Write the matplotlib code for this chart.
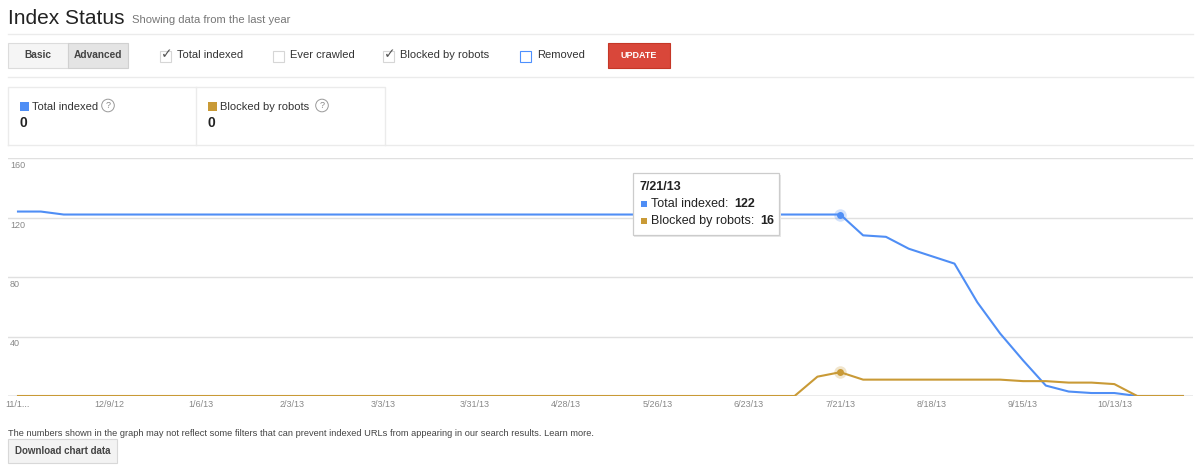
import matplotlib
matplotlib.use("Agg")
import matplotlib.pyplot as plt
import matplotlib.transforms as mtransforms
from matplotlib.patches import Rectangle
import pandas as pd

plt.rcParams["font.family"] = ["Liberation Sans", "DejaVu Sans"]

# ---- data (weekly) ----
week_start = "2012-11-11"
total_indexed = [124, 124] + [122] * 35 + [108, 107, 99, 94, 89, 63, 42, 24, 7, 3, 2, 2, 0, 0, 0]
blocked_by_robots = [0] * 35 + [13, 16, 11, 11, 11, 11, 11, 11, 11, 10, 10, 9, 9, 8, 0, 0, 0]
tick_labels = ["11/1...", "12/9/12", "1/6/13", "2/3/13", "3/3/13", "3/31/13", "4/28/13",
               "5/26/13", "6/23/13", "7/21/13", "8/18/13", "9/15/13", "10/13/13"]
y_labels = [40, 80, 120, 160]
hover_idx = 36

dates = pd.date_range(week_start, periods=len(total_indexed), freq="7D")

BLUE = "#4f8ef5"
OCHRE = "#c99a36"
GRID = "#e0e0e0"
SEP = "#ebebeb"
TXT = "#333333"

fig = plt.figure(figsize=(12, 4.71), dpi=100)
fig.patch.set_facecolor("white")

# UI layer in pixel coordinates
ui = fig.add_axes([0, 0, 1, 1], zorder=0)
ui.set_xlim(0, 1200)
ui.set_ylim(471, 0)
ui.axis("off")

ui.text(8, 19, "Index Status", fontsize=15, color="#222", va="center")
ui.text(132, 20, "Showing data from the last year", fontsize=8.1, color="#777", va="center")
for y in (34, 77, 145):
    ui.plot([8, 1193], [y, y], color=SEP, lw=1)

# Basic / Advanced toggle
ui.add_patch(Rectangle((8, 43), 60, 25, fc="#f5f5f5", ec="#dcdcdc", lw=0.8))
ui.add_patch(Rectangle((68, 43), 60, 25, fc="#e4e4e4", ec="#d0d0d0", lw=0.8))
ui.text(38, 55.5, "Basic", fontsize=7.3, fontweight="bold", color="#444", ha="center", va="center")
ui.text(98, 55.5, "Advanced", fontsize=7.3, fontweight="bold", color="#444", ha="center", va="center")

checks = [(160, "Total indexed", True, "#d6d6d6"),
          (273, "Ever crawled", False, "#d6d6d6"),
          (383, "Blocked by robots", True, "#d6d6d6"),
          (520, "Removed", False, "#4d90fe")]
for x, label, on, ec in checks:
    ui.add_patch(Rectangle((x, 50.5), 11, 11, fc="white", ec=ec, lw=0.8))
    if on:
        ui.text(x + 6.5, 54.5, "\u2713", fontsize=10, color="#555", ha="center", va="center")
    ui.text(x + 17, 55.5, label, fontsize=8, color=TXT, va="center")

ui.add_patch(Rectangle((608, 43), 62, 25, fc="#d9473a", ec="#c53727", lw=0.8))
ui.text(639, 55.5, "UPDATE", fontsize=6.5, fontweight="bold", color="white", ha="center", va="center")

# summary boxes
ui.plot([8, 8, 385, 385], [145, 87, 87, 145], color=SEP, lw=1)
ui.plot([196, 196], [87, 145], color=SEP, lw=1)
for x0, name, col, val, qx in [(20, "Total indexed", BLUE, total_indexed[-1], 108),
                               (208, "Blocked by robots", OCHRE, blocked_by_robots[-1], 322)]:
    ui.add_patch(Rectangle((x0, 101.5), 9, 9, fc=col, ec="none"))
    ui.text(x0 + 12, 106.5, name, fontsize=8, color=TXT, va="center")
    ui.text(qx, 105.5, "?", fontsize=6.5, color="#888", ha="center", va="center",
            bbox=dict(boxstyle="circle,pad=0.2", fc="none", ec="#999", lw=0.7))
    ui.text(x0, 123, str(val), fontsize=10, fontweight="bold", color="#222", va="center")

# footer
ui.text(8, 433, "The numbers shown in the graph may not reflect some filters that can prevent "
        "indexed URLs from appearing in our search results. Learn more.",
        fontsize=6.7, color="#444", va="center")
ui.add_patch(Rectangle((8, 439), 109, 24, fc="#f3f3f3", ec="#d8d8d8", lw=0.8))
ui.text(62.5, 451, "Download chart data", fontsize=7, fontweight="bold", color="#444",
        ha="center", va="center")

# ---- chart ----
ax = fig.add_axes([8 / 1200, 1 - 396 / 471, 1185 / 1200, (396 - 158) / 471], zorder=1)
ax.patch.set_alpha(0)
for s in ax.spines.values():
    s.set_visible(False)
ax.set_ylim(0, 160)
ax.set_xlim(dates[0] - pd.Timedelta(days=3.06), dates[0] + pd.Timedelta(days=360.1))

for v in y_labels:
    ax.axhline(v, color=GRID, lw=1, zorder=1)
ax.axhline(0, color="#999", lw=1, zorder=1)

lab_tr = mtransforms.offset_copy(ax.get_yaxis_transform(), fig=fig, x=2, y=-3, units="dots")
for v in y_labels:
    ax.text(0, v, str(v), transform=lab_tr, fontsize=6.5, color="#888", va="top", ha="left")

ax.plot(dates, total_indexed, color=BLUE, lw=1.5, zorder=3)
ax.plot(dates, blocked_by_robots, color=OCHRE, lw=1.5, zorder=4)

for series, col in [(total_indexed, BLUE), (blocked_by_robots, OCHRE)]:
    ax.plot(dates[hover_idx], series[hover_idx], "o", ms=9, color=col, alpha=0.25, mec="none", zorder=5)
    ax.plot(dates[hover_idx], series[hover_idx], "o", ms=5, color=col, mec="none", zorder=6)

ax.set_yticks([])
ax.set_xticks(dates[::4])
ax.set_xticklabels(tick_labels, fontsize=6.5, color="#888")
ax.tick_params(axis="x", length=0, pad=3)

# ---- tooltip ----
top = fig.add_axes([0, 0, 1, 1], zorder=3)
top.set_xlim(0, 1200)
top.set_ylim(471, 0)
top.axis("off")
top.add_patch(Rectangle((634, 175), 147, 62, fc="#e8e8e8", ec="none"))
top.add_patch(Rectangle((633, 173), 146, 62, fc="white", ec="#cccccc", lw=0.9))
top.text(640, 187, dates[hover_idx].strftime("%-m/%-d/%y"), fontsize=9, fontweight="bold",
         color="#222", va="center")
for y, name, col, val in [(204, "Total indexed:", BLUE, total_indexed[hover_idx]),
                          (221, "Blocked by robots:", OCHRE, blocked_by_robots[hover_idx])]:
    top.add_patch(Rectangle((641, y - 3), 6, 6, fc=col, ec="none"))
    t = top.text(651, y, name, fontsize=9, color="#222", va="center")
    top.annotate(str(val), xy=(1, 0.5), xycoords=t, xytext=(4, 0), textcoords="offset points",
                 fontsize=9, fontweight="bold", color="#222", va="center")

fig.savefig("out.png", dpi=100, facecolor="white")
